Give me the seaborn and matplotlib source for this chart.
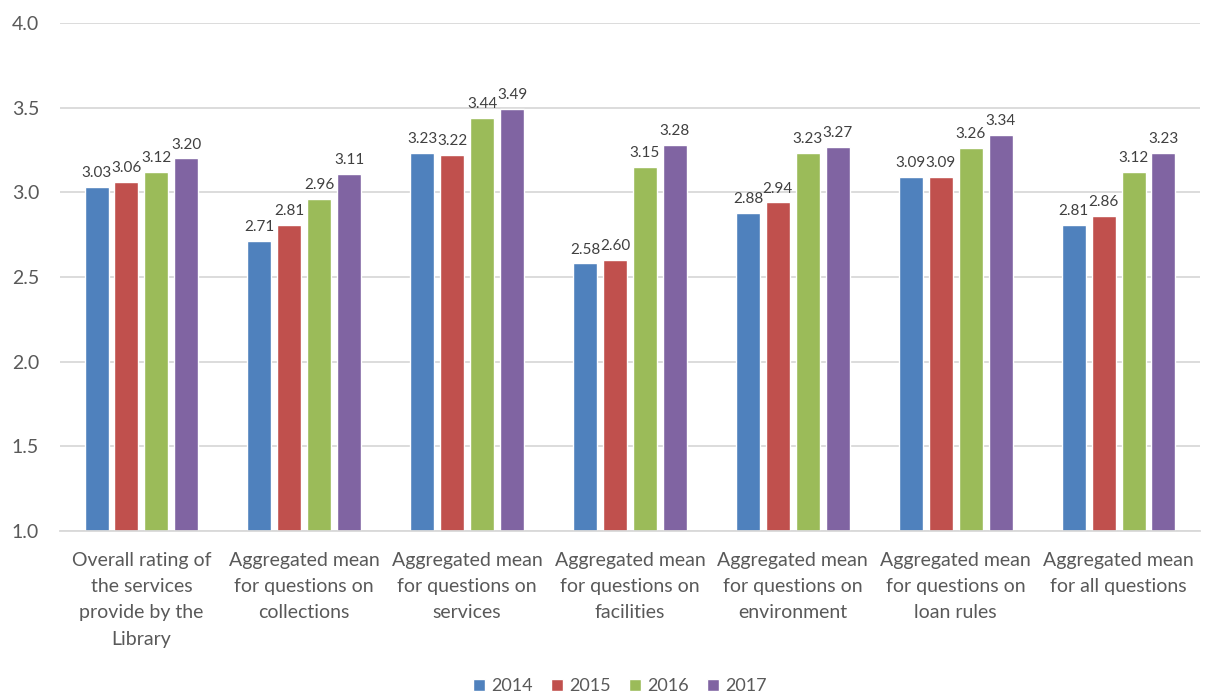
import matplotlib
matplotlib.use("Agg")
import matplotlib.pyplot as plt
import seaborn as sns
import pandas as pd

categories = [
    "Overall rating of\nthe services\nprovide by the\nLibrary",
    "Aggregated mean\nfor questions on\ncollections",
    "Aggregated mean\nfor questions on\nservices",
    "Aggregated mean\nfor questions on\nfacilities",
    "Aggregated mean\nfor questions on\nenvironment",
    "Aggregated mean\nfor questions on\nloan rules",
    "Aggregated mean\nfor all questions",
]
years = ["2014", "2015", "2016", "2017"]
v2014 = [3.03, 2.71, 3.23, 2.58, 2.88, 3.09, 2.81]
v2015 = [3.06, 2.81, 3.22, 2.60, 2.94, 3.09, 2.86]
v2016 = [3.12, 2.96, 3.44, 3.15, 3.23, 3.26, 3.12]
v2017 = [3.20, 3.11, 3.49, 3.28, 3.27, 3.34, 3.23]
colors = ["#4F81BD", "#C0504D", "#9BBB59", "#8064A2"]

rows = []
for yr, vals in zip(years, [v2014, v2015, v2016, v2017]):
    for c, v in zip(categories, vals):
        rows.append({"cat": c, "year": yr, "val": v})
df = pd.DataFrame(rows)

sns.set_theme(style="white")
plt.rcParams['font.family'] = ['Lato', 'DejaVu Sans']
text_color = "#595959"

fig = plt.figure(figsize=(12.06, 6.95), dpi=100)
ax = fig.add_axes([60/1206, 1 - 531/695, 1140/1206, (531-23)/695])

sns.barplot(data=df, x="cat", y="val", hue="year", palette=colors,
            width=0.735, gap=0.2, ax=ax, saturation=1)

ax.set_ylim(1.0, 4.0)
ax.set_xlim(-0.5, len(categories) - 0.5)
ax.set_yticks([1.0, 1.5, 2.0, 2.5, 3.0, 3.5, 4.0])
ax.set_yticklabels([f"{t:.1f}" for t in [1.0, 1.5, 2.0, 2.5, 3.0, 3.5, 4.0]])
ax.yaxis.grid(True, color="#D9D9D9", linewidth=1.3)
ax.set_axisbelow(True)
for s in ["top", "right", "left"]:
    ax.spines[s].set_visible(False)
ax.spines["bottom"].set_color("#D9D9D9")
ax.spines["bottom"].set_linewidth(1.3)
ax.tick_params(axis="both", length=0, colors=text_color)
ax.tick_params(axis="y", pad=15, labelsize=14)
ax.tick_params(axis="x", pad=15, labelsize=14)
for lbl in ax.get_xticklabels():
    lbl.set_linespacing(1.66)
ax.set_xlabel("")
ax.set_ylabel("")

for cont in ax.containers:
    ax.bar_label(cont, fmt="%.2f", padding=5, fontsize=11, color="#404040")

ax.get_legend().remove()
handles, labels = ax.get_legend_handles_labels()
leg = fig.legend(handles, labels, loc="center", bbox_to_anchor=(620/1206, 9/695), ncol=4,
                 frameon=False, fontsize=13, handlelength=0.66, handleheight=0.66,
                 handletextpad=0.35, columnspacing=1.0)
for t in leg.get_texts():
    t.set_color(text_color)

fig.savefig("out.png", dpi=100)
